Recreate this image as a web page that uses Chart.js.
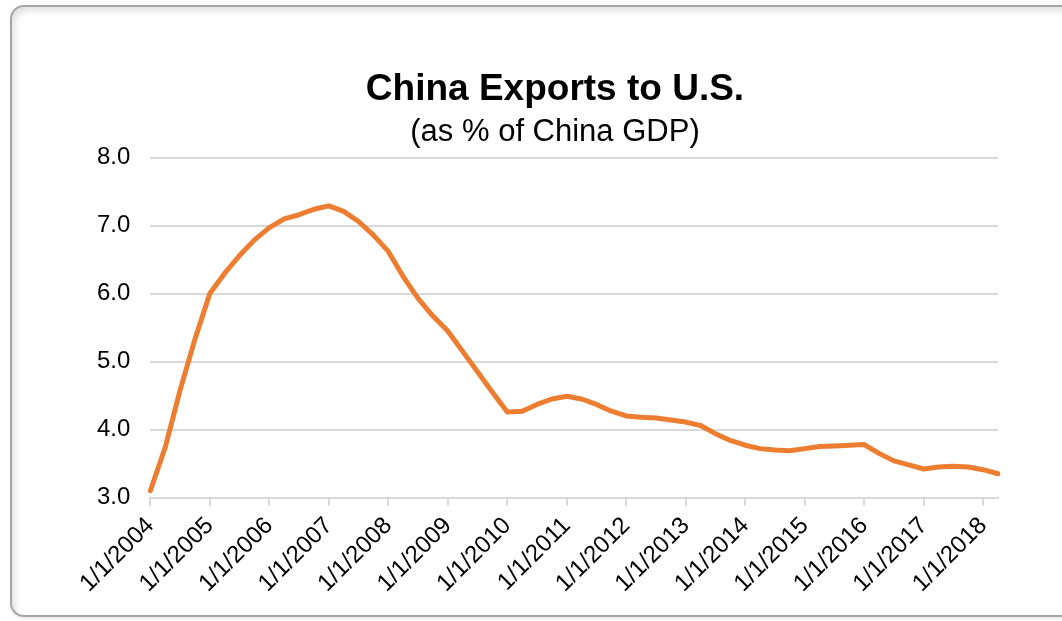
<!DOCTYPE html>
<html>
<head>
<meta charset="utf-8">
<script src="https://cdn.jsdelivr.net/npm/chart.js@4/dist/chart.umd.min.js"></script>
<style>
  html, body { margin: 0; padding: 0; background: #fff; }
  body { width: 1062px; height: 621px; position: relative; overflow: hidden; }
  .frame {
    position: absolute; left: 10px; top: 5px; width: 1100px; height: 608px;
    border: 2px solid #a6a6a6; border-radius: 14px;
    box-shadow: inset 3px 4px 6px rgba(0,0,0,0.12), 0 2px 2px rgba(0,0,0,0.08);
  }
  #chart { position: absolute; left: 0; top: 0; }
</style>
</head>
<body>
<div class="frame"></div>
<canvas id="chart" width="1062" height="621"></canvas>
<script>
// quarterly dates, 2004 Q1 .. 2018 Q2
const quarters = [
  '1/1/2004', '4/1/2004', '7/1/2004', '10/1/2004',
  '1/1/2005', '4/1/2005', '7/1/2005', '10/1/2005',
  '1/1/2006', '4/1/2006', '7/1/2006', '10/1/2006',
  '1/1/2007', '4/1/2007', '7/1/2007', '10/1/2007',
  '1/1/2008', '4/1/2008', '7/1/2008', '10/1/2008',
  '1/1/2009', '4/1/2009', '7/1/2009', '10/1/2009',
  '1/1/2010', '4/1/2010', '7/1/2010', '10/1/2010',
  '1/1/2011', '4/1/2011', '7/1/2011', '10/1/2011',
  '1/1/2012', '4/1/2012', '7/1/2012', '10/1/2012',
  '1/1/2013', '4/1/2013', '7/1/2013', '10/1/2013',
  '1/1/2014', '4/1/2014', '7/1/2014', '10/1/2014',
  '1/1/2015', '4/1/2015', '7/1/2015', '10/1/2015',
  '1/1/2016', '4/1/2016', '7/1/2016', '10/1/2016',
  '1/1/2017', '4/1/2017', '7/1/2017', '10/1/2017',
  '1/1/2018', '4/1/2018'
];

// exports to US as % of China GDP
const exportShare = [
  3.10, 3.74, 4.58, 5.33,
  6.00, 6.30, 6.56, 6.79,
  6.97, 7.10, 7.16, 7.24,
  7.29, 7.21, 7.06, 6.86,
  6.62, 6.25, 5.93, 5.67,
  5.45, 5.15, 4.85, 4.55,
  4.26, 4.27, 4.37, 4.45,
  4.49, 4.45, 4.37, 4.27,
  4.20, 4.18, 4.17, 4.14,
  4.11, 4.06, 3.94, 3.84,
  3.77, 3.72, 3.70, 3.69,
  3.72, 3.75, 3.76, 3.77,
  3.78, 3.65, 3.54, 3.48,
  3.42, 3.45, 3.46, 3.45,
  3.41, 3.35
];

const yTicks = [3, 4, 5, 6, 7, 8];

const font = "'Liberation Sans', Arial, sans-serif";
const gridGrey = '#d9d9d9';

// title + subtitle sit a bit right of the canvas centre in the original
const shiftTitles = {
  id: 'shiftTitles',
  afterLayout(chart) {
    chart.boxes.forEach(b => {
      if (b.options && typeof b.options.text === 'string') {
        b.left = 112;
      }
    });
  }
};

new Chart(document.getElementById('chart'), {
  type: 'line',
  data: {
    labels: quarters,
    datasets: [{
      label: 'China exports to U.S.',
      data: exportShare,
      borderColor: '#ed7d31',
      borderWidth: 5,
      pointRadius: 0,
      tension: 0,
      borderCapStyle: 'round',
      borderJoinStyle: 'round'
    }]
  },
  plugins: [shiftTitles],
  options: {
    responsive: false,
    animation: false,
    layout: {
      padding: { left: 77, right: 64, top: 0, bottom: 17 }
    },
    plugins: {
      legend: { display: false },
      tooltip: { enabled: false },
      title: {
        display: true,
        text: 'China Exports to U.S.',
        color: '#000',
        font: { family: font, size: 37, weight: 'bold' },
        padding: { top: 68, bottom: 0 }
      },
      subtitle: {
        display: true,
        text: '(as % of China GDP)',
        color: '#000',
        font: { family: font, size: 31 },
        padding: { top: 1, bottom: 7 }
      }
    },
    scales: {
      x: {
        offset: false,
        grid: {
          drawOnChartArea: false,
          color: gridGrey,
          lineWidth: 2,
          tickLength: 8
        },
        border: { color: gridGrey, width: 2 },
        ticks: {
          autoSkip: false,
          maxRotation: 45,
          minRotation: 45,
          color: '#000',
          font: { family: font, size: 24 },
          padding: 6,
          callback: function (val, i) {
            return i % 4 === 0 ? quarters[i] : null;
          }
        }
      },
      y: {
        min: 3,
        max: 8,
        afterBuildTicks: function (axis) {
          axis.ticks = yTicks.map(v => ({ value: v }));
        },
        grid: {
          color: gridGrey,
          lineWidth: 2,
          drawTicks: false
        },
        border: { display: false },
        ticks: {
          color: '#000',
          font: { family: font, size: 24 },
          padding: 20,
          callback: v => v.toFixed(1)
        }
      }
    }
  }
});
</script>
</body>
</html>
